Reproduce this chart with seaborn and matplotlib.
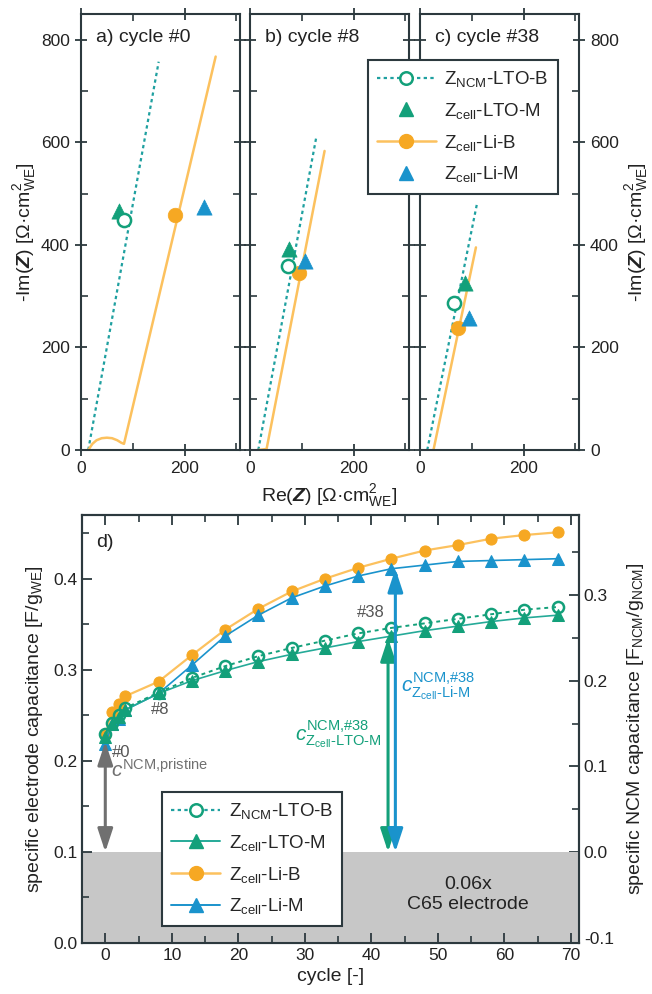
import numpy as np
import pandas as pd
import matplotlib
matplotlib.use("Agg")
import matplotlib.pyplot as plt
from matplotlib.lines import Line2D
from matplotlib.ticker import MultipleLocator, FormatStrFormatter
import seaborn as sns

# ---------------- data: Nyquist panels (a, b, c) ----------------
panel_titles = ["a) cycle #0", "b) cycle #8", "c) cycle #38"]
# Z_NCM-LTO-B impedance lines (Re, -Im)
ncm_re = [[14, 150], [16, 128], [14, 110]]
ncm_im = [[0, 757], [0, 610], [0, 480]]
# Z_cell-Li-B impedance lines
lib_re = [[14, 22, 30, 40, 50, 60, 70, 78, 83, 260], [16, 32, 144], [26, 108]]
lib_im = [[0, 12, 19, 23, 24, 23, 19, 14, 12, 767], [0, 2, 583], [0, 395]]
# single frequency points
pt_ncm_ltob = [(83, 449), (74, 358), (66, 287)]
pt_cell_ltom = [(74, 465), (76, 392), (87, 326)]
pt_cell_lib = [(182, 458), (94, 345), (74, 237)]
pt_cell_lim = [(238, 474), (107, 369), (95, 257)]

# ---------------- data: capacitance vs cycle (d) ----------------
cycles = [0, 1, 2, 3, 8, 13, 18, 23, 28, 33, 38, 43, 48, 53, 58, 63, 68]
cap_ncm_ltob = [0.229, 0.242, 0.250, 0.258, 0.275, 0.291, 0.304, 0.315, 0.324, 0.332,
                0.340, 0.346, 0.351, 0.356, 0.361, 0.366, 0.369]
cap_cell_ltom = [0.226, 0.240, 0.248, 0.256, 0.274, 0.288, 0.299, 0.309, 0.317, 0.324,
                 0.331, 0.337, 0.343, 0.348, 0.353, 0.357, 0.360]
cap_cell_lib = [0.228, 0.254, 0.263, 0.271, 0.287, 0.316, 0.344, 0.367, 0.386, 0.400,
                0.412, 0.422, 0.431, 0.437, 0.444, 0.448, 0.451]
cap_cell_lim = [0.218, 0.240, 0.246, 0.256, 0.274, 0.305, 0.337, 0.360, 0.379, 0.392,
                0.403, 0.411, 0.415, 0.419, 0.420, 0.421, 0.422]
c65_level = 0.1
ncm_fraction = 0.94

labels = [r"Z$_{\mathrm{NCM}}$-LTO-B", r"Z$_{\mathrm{cell}}$-LTO-M",
          r"Z$_{\mathrm{cell}}$-Li-B", r"Z$_{\mathrm{cell}}$-Li-M"]

# ---------------- style ----------------
sns.set_theme(style="ticks")
plt.rcParams["font.family"] = ["Liberation Sans", "DejaVu Sans"]
plt.rcParams["mathtext.fontset"] = "custom"
plt.rcParams["mathtext.rm"] = "Liberation Sans"
plt.rcParams["mathtext.it"] = "Liberation Sans:italic"
plt.rcParams["mathtext.bf"] = "Liberation Sans:bold:italic"
plt.rcParams["axes.unicode_minus"] = False

TEAL = "#1fa0a0"
GREEN = "#13a07a"
GREENLINE = "#25aa98"
ORANGE = "#f6a823"
ORANGELINE = "#fcc15e"
BLUE = "#1a93cc"
GRAY = "#707070"
SPINE = "#2c393e"
TXT = "#222222"

W, H = 652, 994
fig = plt.figure(figsize=(W / 100, H / 100), dpi=100)


def px_axes(left, top, right, bottom):
    return fig.add_axes([left / W, 1 - bottom / H, (right - left) / W, (bottom - top) / H])


def style_axes(ax):
    for s in ax.spines.values():
        s.set_color(SPINE)
        s.set_linewidth(1.5)
    ax.tick_params(which="major", direction="inout", length=9, width=1.3, color=SPINE,
                   labelsize=12.5, labelcolor=TXT)
    ax.tick_params(which="minor", direction="in", length=5, width=1.2, color=SPINE)


lefts = [81, 250, 420]
top_axes = []
for i in range(3):
    ax = px_axes(lefts[i], 14, lefts[i] + 159, 450)
    top_axes.append(ax)
    sns.lineplot(x=ncm_re[i], y=ncm_im[i], ax=ax, sort=False, color=TEAL, lw=1.6,
                 linestyle=(0, (1.5, 1.5)), estimator=None)
    sns.lineplot(x=lib_re[i], y=lib_im[i], ax=ax, sort=False, color=ORANGELINE, lw=1.8,
                 estimator=None)
    sns.scatterplot(x=[pt_cell_ltom[i][0]], y=[pt_cell_ltom[i][1]], ax=ax, marker="^",
                    color=GREEN, s=120, edgecolor=GREEN, linewidth=0.5, zorder=5)
    sns.scatterplot(x=[pt_cell_lib[i][0]], y=[pt_cell_lib[i][1]], ax=ax, marker="o",
                    color=ORANGE, s=110, edgecolor=ORANGE, linewidth=0.5, zorder=5)
    sns.scatterplot(x=[pt_cell_lim[i][0]], y=[pt_cell_lim[i][1]], ax=ax, marker="^",
                    color=BLUE, s=120, edgecolor=BLUE, linewidth=0.5, zorder=5)
    sns.scatterplot(x=[pt_ncm_ltob[i][0]], y=[pt_ncm_ltob[i][1]], ax=ax, marker="o",
                    facecolor="white", s=90, edgecolor=GREEN, linewidth=1.8, zorder=6)
    ax.set_xlim(0, 307)
    ax.set_ylim(0, 850)
    ax.xaxis.set_major_locator(MultipleLocator(200))
    ax.xaxis.set_minor_locator(MultipleLocator(100))
    ax.yaxis.set_major_locator(MultipleLocator(200))
    ax.yaxis.set_minor_locator(MultipleLocator(100))
    style_axes(ax)
    ax.tick_params(which="both", top=True, right=True, left=True, bottom=True)
    ax.tick_params(labelleft=(i == 0), labelright=(i == 2))
    ax.set_xlabel("")
    ax.set_ylabel("")
    ax.text(0.094, 0.945, panel_titles[i], transform=ax.transAxes, fontsize=14,
            color=TXT, ha="left", va="center")

ylab_top = r"-Im($\mathbf{Z}$) [Ω·cm$^{2}_{\mathrm{WE}}$]"
top_axes[0].set_ylabel(ylab_top, fontsize=14, color=TXT, labelpad=2)
top_axes[2].yaxis.set_label_position("right")
top_axes[2].set_ylabel(ylab_top, fontsize=14, color=TXT, labelpad=3, rotation=90)
top_axes[1].set_xlabel(r"Re($\mathbf{Z}$) [Ω·cm$^{2}_{\mathrm{WE}}$]",
                       fontsize=14, color=TXT, labelpad=4)

top_handles = [
    Line2D([], [], color=TEAL, ls=(0, (1.5, 1.5)), lw=1.6, marker="o", mfc="white",
           mec=GREEN, mew=1.8, ms=9),
    Line2D([], [], ls="none", marker="^", color=GREEN, ms=10),
    Line2D([], [], color=ORANGELINE, lw=1.8, marker="o", mfc=ORANGE, mec=ORANGE, ms=10),
    Line2D([], [], ls="none", marker="^", color=BLUE, ms=10),
]
leg1 = fig.legend(top_handles, labels, loc="upper left",
                  bbox_to_anchor=(368 / W, 1 - 60 / H), fontsize=13.5, frameon=True,
                  fancybox=False, framealpha=1, edgecolor=SPINE, handlelength=3.1,
                  handletextpad=0.45, labelspacing=0.62, borderpad=0.5,
                  borderaxespad=0)
leg1.get_frame().set_linewidth(1.5)

# ---------------- panel d ----------------
axd = px_axes(82, 515, 579, 943)
df = pd.DataFrame({"cycle": cycles, "ncm_ltob": cap_ncm_ltob, "cell_ltom": cap_cell_ltom,
                   "cell_lib": cap_cell_lib, "cell_lim": cap_cell_lim})
axd.axhspan(0, c65_level, color="#c7c7c7", zorder=0, lw=0)
sns.lineplot(data=df, x="cycle", y="cell_lib", ax=axd, color=ORANGELINE, lw=1.6,
             marker="o", markersize=8, markerfacecolor=ORANGE, markeredgecolor=ORANGE,
             zorder=3)
sns.lineplot(data=df, x="cycle", y="cell_lim", ax=axd, color=BLUE, lw=1.2,
             marker="^", markersize=8.5, markerfacecolor=BLUE, markeredgecolor=BLUE,
             zorder=4)
sns.lineplot(data=df, x="cycle", y="cell_ltom", ax=axd, color=GREENLINE, lw=1.2,
             marker="^", markersize=8.5, markerfacecolor=GREEN, markeredgecolor=GREEN,
             zorder=4)
sns.lineplot(data=df, x="cycle", y="ncm_ltob", ax=axd, color=GREEN, lw=1.4,
             linestyle=(0, (2, 2)), marker="o", markersize=8, markerfacecolor="none",
             markeredgecolor=GREEN, markeredgewidth=1.8, zorder=5)
axd.set_xlim(-3.5, 71.2)
axd.set_ylim(0, 0.47)
axd.xaxis.set_major_locator(MultipleLocator(10))
axd.xaxis.set_minor_locator(MultipleLocator(5))
axd.yaxis.set_major_locator(MultipleLocator(0.1))
axd.yaxis.set_minor_locator(MultipleLocator(0.05))
axd.yaxis.set_major_formatter(FormatStrFormatter("%.1f"))
style_axes(axd)
axd.tick_params(which="both", top=True, right=False, bottom=True, left=True)
axd.tick_params(which="major", direction="in", length=7)
axd.set_xlabel("cycle [-]", fontsize=14, color=TXT, labelpad=4)
axd.set_ylabel(r"specific electrode capacitance [F/g$_{\mathrm{WE}}$]", fontsize=14,
               color=TXT, labelpad=6)

ax2 = axd.twinx()
lo, hi = axd.get_ylim()
ax2.set_ylim((lo - c65_level) / ncm_fraction, (hi - c65_level) / ncm_fraction)
ax2.yaxis.set_major_locator(MultipleLocator(0.1))
ax2.yaxis.set_minor_locator(MultipleLocator(0.05))
ax2.yaxis.set_major_formatter(FormatStrFormatter("%.1f"))
style_axes(ax2)
ax2.tick_params(which="major", direction="in", length=7)
ax2.set_ylabel(r"specific NCM capacitance [F$_{\mathrm{NCM}}$/g$_{\mathrm{NCM}}$]",
               fontsize=14, color=TXT, labelpad=8)
axd.set_zorder(ax2.get_zorder() + 1)
axd.patch.set_visible(False)


def darrow(x, y0, y1, color):
    axd.annotate("", xy=(x, y1), xytext=(x, y0),
                 arrowprops=dict(arrowstyle="<|-|>,head_length=0.7,head_width=0.23",
                                 color=color, lw=2.2, shrinkA=0, shrinkB=0,
                                 mutation_scale=20), zorder=6)


darrow(0, c65_level, cap_cell_lim[0] + 0.003, GRAY)
darrow(42.5, c65_level, cap_cell_ltom[11] - 0.002, GREEN)
darrow(43.6, c65_level, cap_cell_lim[11], BLUE)

axd.text(1.0, 0.209, "#0", color="#555555", fontsize=12, ha="left", va="center")
axd.text(8.3, 0.256, "#8", color="#555555", fontsize=12, ha="center", va="center")
axd.text(42.0, 0.363, "#38", color="#555555", fontsize=12, ha="right", va="center")
axd.text(0.8, 0.19, r"$\mathit{c}^{\mathrm{NCM{,}pristine}}$", color=GRAY, fontsize=15,
         ha="left", va="center")
axd.text(41.5, 0.228,
         r"$\mathit{c}^{\mathrm{NCM{,}\#38}}_{\mathrm{Z_{cell}\text{-}LTO\text{-}M}}$",
         color=GREEN, fontsize=15, ha="right", va="center")
axd.text(44.4, 0.282,
         r"$\mathit{c}^{\mathrm{NCM{,}\#38}}_{\mathrm{Z_{cell}\text{-}Li\text{-}M}}$",
         color=BLUE, fontsize=15, ha="left", va="center")
axd.text(54.5, 0.053, "0.06x\nC65 electrode", fontsize=14, color=TXT, ha="center",
         va="center", linespacing=1.25)
axd.text(-1.4, 0.44, "d)", fontsize=14, color=TXT, ha="left", va="center")

d_handles = [
    Line2D([], [], color=TEAL, ls=(0, (1.5, 1.5)), lw=1.6, marker="o", mfc="white",
           mec=GREEN, mew=1.8, ms=9),
    Line2D([], [], color=GREENLINE, lw=1.4, marker="^", mfc=GREEN, mec=GREEN, ms=10),
    Line2D([], [], color=ORANGELINE, lw=1.8, marker="o", mfc=ORANGE, mec=ORANGE, ms=10),
    Line2D([], [], color=BLUE, lw=1.4, marker="^", mfc=BLUE, mec=BLUE, ms=10),
]
leg2 = axd.legend(d_handles, labels, loc="upper left",
                  bbox_to_anchor=((162 - 82) / 497, (943 - 792) / 428), fontsize=13.5,
                  frameon=True, fancybox=False, framealpha=1, edgecolor=SPINE,
                  handlelength=2.6, handletextpad=0.45, labelspacing=0.62,
                  borderpad=0.5, borderaxespad=0)
leg2.get_frame().set_linewidth(1.5)
leg2.set_zorder(10)

fig.savefig("out.png", dpi=100, facecolor="white")
